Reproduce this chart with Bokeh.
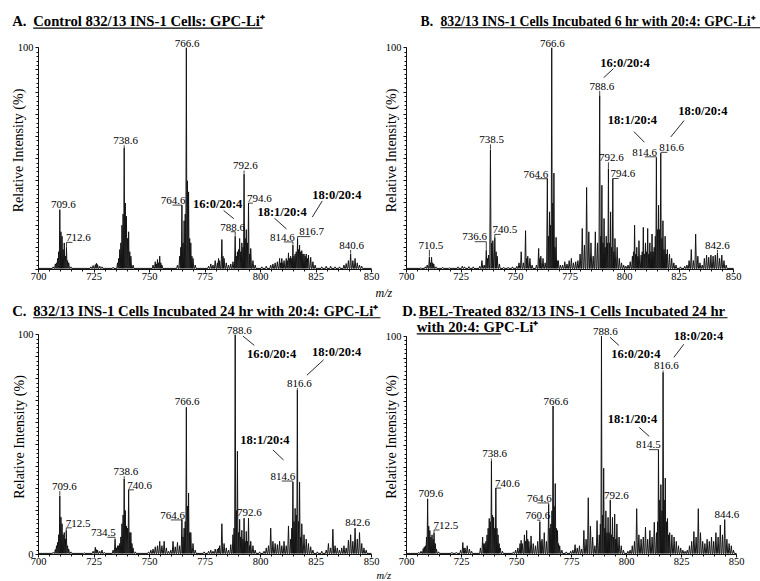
from bokeh.plotting import figure
from bokeh.layouts import column, row
from bokeh.models import Label, FixedTicker, Range1d
from bokeh.embed import file_html
from bokeh.resources import INLINE

# ---------------- DATA (m/z, relative intensity %) ----------------
a_mz = [706.6, 707.6, 708.1, 708.6, 709.1, 709.6, 710.1, 710.6, 711.1, 711.6, 712.1, 712.6, 713.1, 713.6, 714.6,
        723.6, 724.6, 725.6, 726.1, 726.6, 727.6, 728.6, 733.6, 735.6, 736.1, 736.6, 737.1, 737.6, 738.1, 738.6,
        739.1, 739.6, 740.1, 740.6, 741.1, 741.6, 742.6, 751.6, 752.6, 753.1, 753.6, 754.1, 754.6, 755.1, 755.6,
        762.6, 763.6, 764.1, 764.6, 765.1, 765.6, 766.1, 766.6, 767.1, 767.6, 768.1, 768.6, 769.1, 769.6, 770.6,
        776.6, 777.6, 778.6, 779.6, 780.6, 781.1, 781.6, 782.6, 783.1, 783.6, 784.6, 785.6, 786.6, 787.6, 788.6,
        789.1, 789.6, 790.1, 790.6, 791.1, 791.6, 792.1, 792.6, 793.1, 793.6, 794.1, 794.6, 795.1, 795.6, 796.6,
        797.6, 800.6, 802.6, 804.6, 805.6, 806.6, 807.6, 808.6, 809.1, 809.6, 810.1, 810.6, 811.6, 812.1, 812.6,
        813.1, 813.6, 814.1, 814.6, 815.1, 815.6, 816.1, 816.7, 817.1, 817.6, 818.1, 818.6, 819.1, 819.6, 820.1,
        820.6, 821.1, 821.6, 822.6, 823.6, 824.6, 827.6, 829.6, 831.6, 833.6, 835.6, 837.6, 838.6, 839.6, 840.6,
        841.6, 842.6, 843.6, 844.6, 845.6]
a_int = [1.2, 2.5, 3, 5, 8, 27, 17, 15, 9, 12, 6, 10, 4, 3, 1.2,
         1.2, 1.8, 2.2, 2.8, 2.2, 1.5, 1.2, 1.0, 3, 5, 9, 12, 20, 25, 55,
         30, 24, 14, 17, 8, 6, 2, 2, 3.5, 2.5, 4.5, 3, 6, 3, 2,
         2, 6, 10, 29, 12, 22, 25, 100, 40, 35, 14, 12, 6, 5, 2,
         1.5, 2.5, 2, 4, 3, 5, 4, 13.5, 6, 5, 3, 2, 2.5, 3.5, 15,
         6, 8, 9, 14, 8, 12, 10, 43, 14, 18, 12, 30, 7, 9.5, 4,
         2, 1.2, 1.5, 2, 2.5, 3, 3.5, 5, 3, 5, 3, 4, 5, 4, 7.5,
         5, 6, 5, 11, 6, 7, 8, 14, 9, 11, 8, 8.5, 7, 7, 6,
         7, 5, 6.5, 5.5, 3.5, 2, 1.2, 1.5, 1.5, 1.2, 1.2, 2, 2.7, 4, 7,
         4, 5, 3, 2, 1.5]

b_mz = [706.6, 708.6, 709.5, 710.5, 711.0, 711.5, 712.0, 712.5, 713.5, 716.6, 719.6, 723.6, 725.6, 726.6, 728.6,
        730.6, 733.6, 734.6, 735.6, 736.6, 737.1, 737.6, 738.5, 739.1, 739.6, 740.5, 741.1, 741.6, 742.6, 744.6,
        746.6, 748.6, 750.6, 751.6, 752.6, 753.6, 754.6, 755.1, 755.6, 756.6, 757.6, 759.6, 760.6, 761.1, 761.6,
        762.6, 763.6, 764.6, 765.1, 765.6, 766.1, 766.6, 767.1, 767.6, 768.1, 768.6, 769.1, 769.6, 770.6, 771.6,
        772.6, 773.6, 774.6, 775.6, 776.6, 777.6, 778.6, 779.6, 780.6, 781.6, 782.6, 783.6, 784.6, 785.6, 786.6,
        787.6, 788.6, 789.1, 789.6, 790.1, 790.6, 791.1, 791.6, 792.1, 792.6, 793.1, 793.6, 794.1, 794.6, 795.1,
        795.6, 796.6, 797.6, 798.6, 799.6, 800.6, 801.6, 802.6, 803.6, 804.1, 804.6, 805.1, 805.6, 806.1, 806.6,
        807.6, 808.1, 808.6, 809.1, 809.6, 810.1, 810.6, 811.1, 811.6, 812.1, 812.6, 813.1, 813.6, 814.1, 814.6,
        815.1, 815.6, 816.1, 816.6, 817.1, 817.6, 818.1, 818.6, 819.1, 819.6, 820.6, 821.6, 822.6, 823.6, 825.6,
        827.6, 828.6, 829.6, 830.6, 831.6, 832.6, 833.6, 834.6, 835.6, 836.6, 837.6, 838.6, 839.6, 840.6, 841.6,
        842.6, 843.6, 844.6, 845.6, 846.6]
b_int = [0.8, 1.2, 2, 5.7, 3, 5.5, 3, 2.5, 1.2, 1, 0.8, 1.2, 1.5, 1.2, 1.3,
         1.2, 1.5, 4, 2, 8.7, 5, 6.5, 54, 12, 13, 14.5, 8, 6, 2.5, 1,
         1, 1.2, 1.5, 3, 8, 3, 17.5, 5, 6, 5, 2, 2, 9.5, 5, 6,
         5, 3, 41, 15, 26, 20, 100, 30, 43.5, 10, 14.5, 4, 4, 2, 2,
         3.5, 2.5, 4, 5, 3, 3.5, 4, 7, 18.5, 11, 37, 17, 12, 6, 17,
         12, 78.5, 15, 38, 12, 23, 10, 15, 12, 45.5, 12, 26, 10, 41, 8,
         14, 10, 5, 3, 2, 1.5, 2, 3.5, 6, 8, 20, 7, 10, 6, 13,
         6.5, 8, 19, 7, 12, 8, 18.5, 7, 12, 8, 16, 8, 10, 15, 50.5,
         18, 29, 18, 52.5, 14, 22, 9, 15, 7, 9, 7, 5, 3, 2, 1.2,
         1.5, 2, 4, 9, 4, 16, 6, 3, 2, 5, 6.5, 5.5, 6.5, 6, 6.5,
         7.5, 5, 6.5, 4, 2]

c_mz = [706.6, 707.6, 708.1, 708.6, 709.1, 709.6, 710.1, 710.6, 711.1, 711.6, 712.1, 712.5, 713.1, 713.6, 714.6,
        720.6, 724.6, 725.6, 726.1, 726.6, 727.6, 728.6, 729.6, 733.6, 734.5, 735.1, 735.6, 736.1, 736.6, 737.1,
        737.6, 738.1, 738.6, 739.1, 739.6, 740.1, 740.6, 741.1, 741.6, 742.1, 742.6, 743.6, 749.6, 750.6, 751.6,
        752.6, 753.6, 754.6, 755.6, 756.6, 757.6, 758.6, 759.6, 760.6, 761.6, 762.6, 763.6, 764.6, 765.1, 765.6,
        766.1, 766.6, 767.1, 767.6, 768.1, 768.6, 769.6, 770.6, 774.6, 776.6, 777.6, 778.6, 779.6, 780.6, 781.1,
        781.6, 782.6, 783.6, 784.6, 785.6, 786.6, 787.6, 788.1, 788.6, 789.1, 789.6, 790.1, 790.6, 791.1, 791.6,
        792.1, 792.6, 793.1, 793.6, 794.1, 794.6, 795.1, 795.6, 796.6, 797.6, 799.6, 801.6, 802.6, 803.6, 804.6,
        805.6, 806.6, 807.6, 808.6, 809.6, 810.6, 811.6, 812.6, 813.6, 814.1, 814.6, 815.1, 815.6, 816.1, 816.6,
        817.1, 817.6, 818.1, 818.6, 819.6, 820.6, 821.6, 822.6, 823.6, 825.6, 827.6, 829.6, 830.6, 831.6, 832.6,
        833.6, 834.6, 835.6, 836.6, 837.6, 838.6, 839.6, 840.6, 841.6, 842.6, 843.6, 844.6, 845.6, 846.6, 847.6]
c_int = [1, 2.3, 4, 5.5, 9, 26.7, 17, 14, 9, 10, 7, 11, 4, 2.5, 1.2,
         0.8, 1.5, 3.3, 2.2, 2, 1.5, 2, 1, 2, 7, 3, 4, 4, 5, 8,
         14, 18, 34.5, 20, 13, 12, 29.5, 10, 10, 5, 3, 1.2, 1.2, 2, 2.5,
         3.5, 4, 6, 4, 6, 3, 1.5, 2, 6, 3.5, 5.5, 4, 16, 8, 12,
         15, 67, 22, 28, 10, 10, 5, 2, 1.2, 1.5, 2, 1.5, 2.5, 2.5, 3,
         4, 14, 5, 3, 2, 4.5, 9, 12, 100, 20, 47, 10, 16, 8, 11,
         7, 16.5, 6, 10.5, 6, 16.5, 4, 6, 4, 2, 1.2, 1.5, 3, 4, 12,
         6, 5, 4.5, 6, 4, 6, 4, 13, 7, 12, 33, 15, 21, 18, 75,
         15, 33, 8, 14, 9, 7, 5, 3.5, 2, 1.2, 1.5, 2, 5, 3, 11.5,
         4, 3, 2, 3, 4, 3, 6.5, 9, 6, 12, 7, 10, 5, 3, 2]

d_mz = [705.6, 706.6, 707.6, 708.1, 708.6, 709.1, 709.6, 710.1, 710.6, 711.1, 711.6, 712.1, 712.5, 713.1, 713.6,
        714.6, 720.6, 722.6, 724.6, 725.6, 726.1, 726.6, 727.6, 728.6, 729.6, 733.6, 734.6, 735.1, 735.6, 736.1,
        736.6, 737.1, 737.6, 738.1, 738.6, 739.1, 739.6, 740.1, 740.6, 741.1, 741.6, 742.1, 742.6, 743.6, 748.6,
        749.6, 750.6, 751.6, 752.1, 752.6, 753.6, 754.1, 754.6, 755.1, 755.6, 756.6, 757.6, 758.6, 759.6, 760.6,
        761.1, 761.6, 762.6, 763.6, 764.6, 765.1, 765.6, 766.1, 766.6, 767.1, 767.6, 768.1, 768.6, 769.1, 769.6,
        770.6, 772.6, 774.6, 775.6, 776.6, 777.6, 778.6, 779.6, 780.6, 781.6, 782.6, 783.6, 784.6, 785.6, 786.6,
        787.6, 788.1, 788.6, 789.1, 789.6, 790.1, 790.6, 791.1, 791.6, 792.1, 792.6, 793.1, 793.6, 794.1, 794.6,
        795.1, 795.6, 796.6, 797.6, 798.6, 800.6, 801.6, 802.6, 803.6, 804.6, 805.6, 806.6, 807.6, 808.6, 809.6,
        810.6, 811.6, 812.6, 813.6, 814.1, 814.5, 815.1, 815.6, 816.1, 816.6, 817.1, 817.6, 818.1, 818.6, 819.1,
        819.6, 820.6, 821.6, 822.6, 823.6, 824.6, 825.6, 826.6, 827.6, 828.6, 829.6, 830.6, 831.6, 832.6, 833.6,
        834.6, 835.6, 836.6, 837.6, 838.6, 839.6, 840.6, 841.6, 842.6, 843.6, 844.6, 845.6, 846.6, 847.6, 848.6]
d_int = [1, 1.5, 2.7, 3.5, 4, 8, 25.5, 13, 11, 8, 9, 7, 10, 5, 2.5,
         1.2, 1, 1, 2, 5.5, 3, 3, 4, 2.5, 1.5, 3, 8, 5, 5, 6,
         9, 12, 16.5, 15, 43, 18, 17, 12, 30.5, 12, 9, 5, 3, 1.5, 1.2,
         2, 3, 5, 6.5, 5, 9, 6, 11, 7, 6, 8.5, 5, 4, 6, 15,
         6, 7, 10, 6, 23, 12, 14, 20, 68, 22, 32.5, 12, 11, 5, 4,
         2, 1.2, 1.5, 2, 4.5, 3, 4, 2.5, 11, 7, 26, 13, 8, 4, 15.5,
         9, 14, 100, 18, 39.5, 12, 20, 10, 17, 10, 25, 9, 17, 8, 18.5,
         7, 14, 8, 4, 2, 1.5, 2, 4, 6, 21, 9, 7, 8, 12.5, 7,
         11, 8, 14.8, 10, 15, 48, 25, 32, 20, 83.5, 25, 35, 15, 16.5, 9,
         10, 9, 8, 6, 4, 3, 2, 1.5, 2, 4, 6, 10.5, 8, 21, 10,
         6, 5, 7, 6, 8, 6, 10, 8, 13.5, 9, 16, 7, 5, 4, 2]

x_ticks = [700, 725, 750, 775, 800, 825, 850]
y_label = "Relative Intensity (%)"
x_label = "m/z"

titles = {
    "A": ["A.", "Control 832/13 INS-1 Cells: GPC-Li\u207a"],
    "B": ["B.", "832/13 INS-1 Cells Incubated 6 hr with 20:4: GPC-Li\u207a"],
    "C": ["C.", "832/13 INS-1 Cells Incubated 24 hr with 20:4: GPC-Li\u207a"],
    "D": ["D.", "BEL-Treated 832/13 INS-1 Cells Incubated 24 hr", "with 20:4: GPC-Li\u207a"],
}

SERIF = "Liberation Serif"
INK = "#111111"
GEOM = {}
MID = 0.31  # em fraction between alphabetic baseline and text middle


def blank(width, height):
    s = figure(width=width, height=height, output_backend="svg", toolbar_location=None,
               x_range=Range1d(0, width), y_range=Range1d(height, 0),
               x_axis_location=None, y_axis_location=None,
               min_border_left=0, min_border_right=0, min_border_top=0, min_border_bottom=0)
    s.xgrid.visible = False
    s.ygrid.visible = False
    s.outline_line_color = None
    s.background_fill_color = "white"
    s.border_fill_color = "white"
    return s


def strip_text(s, text, x, baseline, size, style="bold", align="left"):
    s.add_layout(Label(x=x, y=baseline - MID * size, text=text, text_align=align, text_baseline="middle",
                       text_font=SERIF, text_font_size=f"{size}px", text_font_style=style,
                       text_color="black"))


def make_panel(name, mz, inten, height, bl, fw, ext, bb, px100, show_zero, lab_standoff):
    br = 380 - bl - fw - ext
    base_y = height - bb
    yend = base_y * 100.0 / px100
    xend = 700 + 150.0 * (fw + ext) / fw
    p = figure(width=380, height=height, output_backend="svg", toolbar_location=None,
               x_range=Range1d(700, xend), y_range=Range1d(0, yend),
               min_border_left=bl, min_border_right=br, min_border_top=0, min_border_bottom=bb)
    p.xgrid.visible = False
    p.ygrid.visible = False
    p.outline_line_color = None
    p.background_fill_color = "white"
    p.border_fill_color = "white"

    # spectrum profile built from the peak list
    pk = sorted(zip(mz, inten))
    base = 0.5
    hw = 0.34
    xs = [700.0]
    ys = [base]
    for i, (m, h) in enumerate(pk):
        if i == 0 or m - pk[i - 1][0] > 2 * hw:
            xs.append(m - hw)
            ys.append(base)
        xs.append(m)
        ys.append(h)
        if i == len(pk) - 1 or pk[i + 1][0] - m > 2 * hw:
            xs.append(m + hw)
            ys.append(base)
        else:
            xs.append((m + pk[i + 1][0]) / 2.0)
            ys.append(base)
    xs.append(850.0)
    ys.append(base)
    p.line(xs, ys, line_color="#141414", line_width=1.0)

    # axes
    p.xaxis.ticker = FixedTicker(ticks=x_ticks, minor_ticks=list(range(700, 851, 5)))
    p.xaxis.bounds = (700, 850)
    p.yaxis.ticker = FixedTicker(ticks=list(range(0, 101, 10)), minor_ticks=list(range(0, 101, 2)))
    p.yaxis.bounds = (0, 100)
    ov = {t: "" for t in range(10, 100, 10)}
    if not show_zero:
        ov[0] = ""
    p.yaxis.major_label_overrides = ov
    for ax in (p.xaxis[0], p.yaxis[0]):
        ax.axis_line_color = INK
        ax.axis_line_width = 1
        ax.major_tick_line_color = INK
        ax.minor_tick_line_color = INK
        ax.major_tick_in = 0
        ax.major_tick_out = 3
        ax.minor_tick_in = 0
        ax.minor_tick_out = 2
        ax.major_label_standoff = 0
        ax.major_label_text_font = SERIF
        ax.major_label_text_font_size = "10.5px"
        ax.major_label_text_color = "black"
    p.yaxis.major_label_standoff = 2
    p.yaxis.axis_label = y_label
    p.yaxis.axis_label_text_font = SERIF
    p.yaxis.axis_label_text_font_size = "14px"
    p.yaxis.axis_label_text_font_style = "normal"
    p.yaxis.axis_label_text_color = "black"
    p.yaxis.axis_label_standoff = lab_standoff

    GEOM[name] = (bl, fw, base_y, px100)
    return p


def cx(name, px):
    bl, fw, base_y, px100 = GEOM[name]
    return 700 + (px - bl) * 150.0 / fw


def cy(name, py):
    bl, fw, base_y, px100 = GEOM[name]
    return (base_y - py) * 100.0 / px100


def units(name, pixels):
    return pixels * 100.0 / GEOM[name][3]


def peak_label(p, name, text, pkx, pkh, lx, ly, align, ux=None):
    p.add_layout(Label(x=lx, y=ly + units(name, MID * 11 + 0.5), text=text, text_align=align,
                       text_baseline="middle", text_font=SERIF, text_font_size="11px",
                       text_color="black"))
    uy = ly - units(name, 0.8)
    if ux is None:
        if uy - pkh > 0.4:
            p.line([pkx, pkx], [pkh + 0.2, uy], line_color=INK, line_width=0.8)
    else:
        p.line([pkx, pkx, ux], [min(pkh + 0.2, uy), uy, uy], line_color=INK, line_width=0.8)


def lipid_label(p, name, text, lx, ly, lead):
    p.add_layout(Label(x=lx, y=ly + units(name, MID * 12.5), text=text, text_align="left",
                       text_baseline="middle", text_font=SERIF, text_font_size="12.5px",
                       text_font_style="bold", text_color="black"))
    p.line([lead[0], lead[2]], [lead[1], lead[3]], line_color=INK, line_width=0.9)


# ---------------- strips & panels ----------------
s1 = blank(760, 31)
s2 = blank(760, 34)
s3 = blank(760, 12)

pa = make_panel("A", a_mz, a_int, 254, 38, 333, 6, 16, 221.7, False, -11)
pb = make_panel("B", b_mz, b_int, 254, 23, 330, 10, 16, 221.7, False, -16)
pc = make_panel("C", c_mz, c_int, 250, 38, 333, 6, 15, 219.7, True, -12)
pd = make_panel("D", d_mz, d_int, 250, 23, 333, 10, 15, 218.3, False, -16)

# titles (top strip, canvas y 0-31)
strip_text(s1, titles["A"][0], 11.7, 25, 14.7)
strip_text(s1, titles["A"][1], 32.7, 25, 14.7)
s1.line([32.7, 262], [27.6, 27.6], line_color="black", line_width=1.1)
strip_text(s1, titles["B"][0], 420, 25, 13.7)
strip_text(s1, titles["B"][1], 440, 25, 13.7)
s1.line([440, 760], [27.2, 27.2], line_color="black", line_width=1.1)

# middle strip (canvas y 285-319): m/z of top row, titles C and D (first line)
strip_text(s2, x_label, 375, 11, 12, style="italic")
strip_text(s2, titles["C"][0], 11.7, 30, 14.7)
strip_text(s2, titles["C"][1], 32.7, 30, 14.7)
s2.line([32.7, 380], [32.3, 32.3], line_color="black", line_width=1.1)
strip_text(s2, titles["D"][0], 401.7, 30, 14.7)
strip_text(s2, titles["D"][1], 418.3, 30, 14.7)
s2.line([418.3, 727], [32.2, 32.2], line_color="black", line_width=1.1)

# bottom strip (canvas y 569-581): m/z of bottom row
strip_text(s3, x_label, 376, 9.2, 10.5, style="italic")

# D title second line (inside panel D, canvas y origin 319, x origin 380)
pd.add_layout(Label(x=cx("D", 33.3), y=cy("D", 12 - MID * 14.7), text=titles["D"][2], text_align="left",
                    text_baseline="middle", text_font=SERIF, text_font_size="14.7px",
                    text_font_style="bold", text_color="black"))
pd.line([cx("D", 33.3), cx("D", 118.5)], [cy("D", 14.4), cy("D", 14.4)], line_color="black", line_width=1.1)

# ---------------- peak annotations ----------------
# panel A
peak_label(pa, "A", "766.6", 766.6, 100, 766.9, 100.3, "center")
peak_label(pa, "A", "738.6", 738.6, 55, 739.3, 56.4, "center")
peak_label(pa, "A", "709.6", 709.6, 27, 711.2, 27.6, "center")
peak_label(pa, "A", "712.6", 712.6, 10, 712.4, 12.6, "left", 715.3)
peak_label(pa, "A", "764.6", 764.6, 29, 766.2, 29.4, "right", 760.4)
peak_label(pa, "A", "788.6", 788.6, 15, 787.4, 17.4, "center", 786.6)
peak_label(pa, "A", "792.6", 792.6, 43, 793.2, 45, "center")
peak_label(pa, "A", "794.6", 794.6, 30, 793.9, 30.3, "left", 796.6)
peak_label(pa, "A", "814.6", 814.6, 11, 815.4, 12.8, "right", 810.5)
peak_label(pa, "A", "816.7", 816.7, 14, 817.4, 15.2, "left", 822.5)
peak_label(pa, "A", "840.6", 840.6, 7, 841.0, 9.2, "center")
lipid_label(pa, "A", "16:0/20:4", 769.6, 28.0, (783.4, 26.6, 788.0, 22.9))
lipid_label(pa, "A", "18:1/20:4", 798.6, 24.1, (806.3, 23.1, 811.7, 18.3))
lipid_label(pa, "A", "18:0/20:4", 823.3, 31.8, (827.8, 30.9, 823.3, 23.6))

# panel B
peak_label(pb, "B", "766.6", 766.6, 100, 766.9, 100.3, "center")
peak_label(pb, "B", "788.6", 788.6, 78.5, 789.6, 81, "center")
peak_label(pb, "B", "738.5", 738.5, 54, 739.0, 56.8, "center")
peak_label(pb, "B", "764.6", 764.6, 41, 765.05, 41.3, "right", 759.3)
peak_label(pb, "B", "736.6", 736.6, 8.7, 736.9, 12.9, "right", 731.3)
peak_label(pb, "B", "740.5", 740.5, 14.5, 739.4, 16.2, "left", 743.2)
peak_label(pb, "B", "710.5", 710.5, 5.7, 711.2, 9.2, "center")
peak_label(pb, "B", "792.6", 792.6, 45.5, 794.0, 48.7, "center")
peak_label(pb, "B", "794.6", 794.6, 41, 793.6, 41.4, "left", 797.3)
peak_label(pb, "B", "814.6", 814.6, 50.5, 814.9, 51.2, "right", 809.3)
peak_label(pb, "B", "816.6", 816.6, 52.5, 815.9, 53.2, "left", 819.6)
peak_label(pb, "B", "842.6", 842.6, 7.5, 842.6, 9.2, "center")
lipid_label(pb, "B", "16:0/20:4", 788.9, 91.6, (794.9, 90.6, 790.4, 86.5))
lipid_label(pb, "B", "18:1/20:4", 792.3, 65.6, (804.3, 62.2, 809.1, 57.4))
lipid_label(pb, "B", "18:0/20:4", 824.6, 69.7, (827.3, 67.2, 821.2, 59.8))

# panel C
peak_label(pc, "C", "788.6", 788.6, 100, 790.5, 100.4, "center")
peak_label(pc, "C", "816.6", 816.6, 75, 817.5, 76.1, "center")
peak_label(pc, "C", "766.6", 766.6, 67, 766.9, 67.7, "center")
peak_label(pc, "C", "814.6", 814.6, 33, 815.6, 33.8, "right", 809.6)
peak_label(pc, "C", "738.6", 738.6, 34.5, 739.4, 36, "center")
peak_label(pc, "C", "740.6", 740.6, 29.5, 740.0, 29.8, "left", 743.0)
peak_label(pc, "C", "709.6", 709.6, 26.7, 711.7, 29.2, "center")
peak_label(pc, "C", "712.5", 712.5, 11, 712.3, 12.5, "left", 715.0)
peak_label(pc, "C", "734.5", 734.5, 7, 734.8, 8.2, "right", 731.0)
peak_label(pc, "C", "764.6", 764.6, 16, 766.0, 16.1, "right", 759.6)
peak_label(pc, "C", "792.6", 792.6, 16.5, 795.0, 17.2, "center")
peak_label(pc, "C", "842.6", 842.6, 12, 843.8, 12.6, "center")
lipid_label(pc, "C", "16:0/20:4", 793.9, 89.5, (792.1, 99.4, 797.2, 95.2))
lipid_label(pc, "C", "18:0/20:4", 823.2, 90.2, (828.4, 88.6, 820.9, 81.6))
lipid_label(pc, "C", "18:1/20:4", 790.9, 50.3, (805.6, 47.6, 810.4, 43.0))

# panel D
peak_label(pd, "D", "788.6", 788.6, 100, 790.4, 100.5, "center")
peak_label(pd, "D", "816.6", 816.6, 83.5, 818.1, 84.7, "center")
peak_label(pd, "D", "766.6", 766.6, 68, 767.9, 68.3, "center")
peak_label(pd, "D", "814.5", 814.5, 48, 815.5, 48.4, "right", 810.2)
peak_label(pd, "D", "738.6", 738.6, 43, 740.1, 44.3, "center")
peak_label(pd, "D", "740.6", 740.6, 30.5, 740.2, 30.8, "left", 743.0)
peak_label(pd, "D", "709.6", 709.6, 25.5, 711.1, 26.2, "center")
peak_label(pd, "D", "712.5", 712.5, 10, 712.3, 11.6, "left", 715.0)
peak_label(pd, "D", "764.6", 764.6, 23, 766.0, 24, "right", 759.5)
peak_label(pd, "D", "760.6", 760.6, 15, 759.7, 16.1, "center", 759.3)
peak_label(pd, "D", "792.6", 792.6, 25, 795.4, 25.2, "center")
peak_label(pd, "D", "844.6", 844.6, 16, 845.6, 16.4, "center")
lipid_label(pd, "D", "16:0/20:4", 793.0, 89.9, (792.5, 99.5, 796.5, 95.8))
lipid_label(pd, "D", "18:0/20:4", 821.5, 98.5, (826.0, 96.3, 821.5, 90.3))
lipid_label(pd, "D", "18:1/20:4", 791.5, 60.4, (805.8, 58.2, 810.3, 54.1))

layout = column(s1, row(pa, pb), s2, row(pc, pd), s3)
open("out.html", "w").write(file_html(layout, INLINE, "GPC-Li spectra"))
